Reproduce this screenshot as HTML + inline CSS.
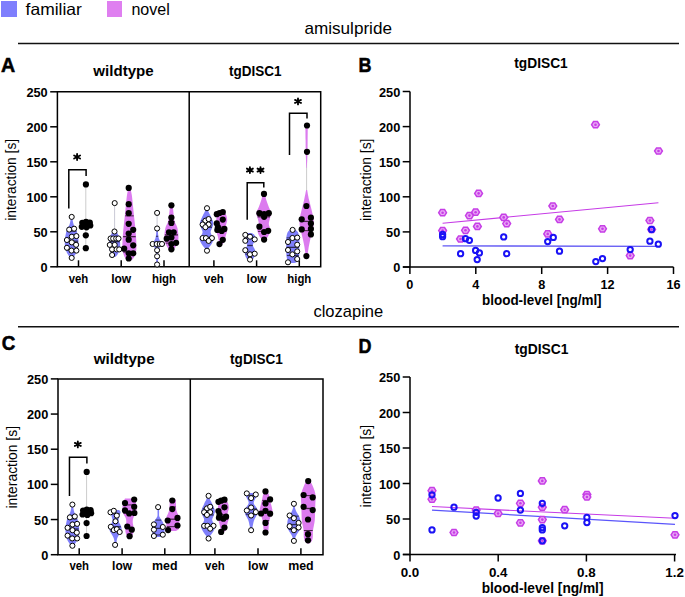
<!DOCTYPE html>
<html><head><meta charset="utf-8"><style>
html,body{margin:0;padding:0;background:#fff;}
body{width:685px;height:597px;overflow:hidden;}
svg{display:block;font-family:"Liberation Sans", sans-serif;}
</style></head><body>
<svg width="685" height="597" viewBox="0 0 685 597">
<rect width="685" height="597" fill="#fff"/>
<rect x="1" y="1" width="16" height="16" fill="#7f7ffd"/>
<rect x="107" y="1" width="15" height="16" fill="#df7ff0"/>
<text x="25.6" y="14.6" font-size="16.5" font-weight="normal" text-anchor="start" textLength="56.3" lengthAdjust="spacingAndGlyphs">familiar</text>
<text x="131.4" y="14.6" font-size="16.5" font-weight="normal" text-anchor="start" textLength="38.4" lengthAdjust="spacingAndGlyphs">novel</text>
<text x="304.4" y="33.8" font-size="16.6" font-weight="normal" text-anchor="start" textLength="87.6" lengthAdjust="spacingAndGlyphs">amisulpride</text>
<line x1="18" y1="43.5" x2="679" y2="43.5" stroke="#111" stroke-width="1.6"/>
<text x="313.4" y="316.9" font-size="16.6" font-weight="normal" text-anchor="start" textLength="69.8" lengthAdjust="spacingAndGlyphs">clozapine</text>
<line x1="18" y1="326.7" x2="679" y2="326.7" stroke="#111" stroke-width="1.6"/>
<text x="1.1" y="71.8" font-size="21" font-weight="bold" text-anchor="start" textLength="14.2" lengthAdjust="spacingAndGlyphs" stroke="#000" stroke-width="0.55">A</text>
<text x="358.5" y="72.3" font-size="21" font-weight="bold" text-anchor="start" textLength="13.0" lengthAdjust="spacingAndGlyphs" stroke="#000" stroke-width="0.55">B</text>
<text x="1.8" y="350.3" font-size="21" font-weight="bold" text-anchor="start" textLength="13.6" lengthAdjust="spacingAndGlyphs" stroke="#000" stroke-width="0.55">C</text>
<text x="358.5" y="353.0" font-size="21" font-weight="bold" text-anchor="start" textLength="13.0" lengthAdjust="spacingAndGlyphs" stroke="#000" stroke-width="0.55">D</text>
<path d="M57.4,91.8 H320.7 V266.8 H57.4 Z M189.2,91.8 V266.8" fill="none" stroke="#000" stroke-width="1.5"/>
<line x1="50.199999999999996" y1="266.8" x2="57.4" y2="266.8" stroke="#000" stroke-width="1.5"/>
<text x="47.7" y="271.8" font-size="13.1" font-weight="bold" text-anchor="end" textLength="7.1" lengthAdjust="spacingAndGlyphs">0</text>
<line x1="50.199999999999996" y1="231.8" x2="57.4" y2="231.8" stroke="#000" stroke-width="1.5"/>
<text x="47.7" y="236.8" font-size="13.1" font-weight="bold" text-anchor="end" textLength="14.2" lengthAdjust="spacingAndGlyphs">50</text>
<line x1="50.199999999999996" y1="196.8" x2="57.4" y2="196.8" stroke="#000" stroke-width="1.5"/>
<text x="47.7" y="201.8" font-size="13.1" font-weight="bold" text-anchor="end" textLength="21.3" lengthAdjust="spacingAndGlyphs">100</text>
<line x1="50.199999999999996" y1="161.8" x2="57.4" y2="161.8" stroke="#000" stroke-width="1.5"/>
<text x="47.7" y="166.8" font-size="13.1" font-weight="bold" text-anchor="end" textLength="21.3" lengthAdjust="spacingAndGlyphs">150</text>
<line x1="50.199999999999996" y1="126.80000000000001" x2="57.4" y2="126.80000000000001" stroke="#000" stroke-width="1.5"/>
<text x="47.7" y="131.8" font-size="13.1" font-weight="bold" text-anchor="end" textLength="21.3" lengthAdjust="spacingAndGlyphs">200</text>
<line x1="50.199999999999996" y1="91.80000000000001" x2="57.4" y2="91.80000000000001" stroke="#000" stroke-width="1.5"/>
<text x="47.7" y="96.80000000000001" font-size="13.1" font-weight="bold" text-anchor="end" textLength="21.3" lengthAdjust="spacingAndGlyphs">250</text>
<line x1="78.5" y1="260.3" x2="78.5" y2="266.8" stroke="#000" stroke-width="1.5"/>
<line x1="121.2" y1="260.3" x2="121.2" y2="266.8" stroke="#000" stroke-width="1.5"/>
<line x1="164" y1="260.3" x2="164" y2="266.8" stroke="#000" stroke-width="1.5"/>
<line x1="213.9" y1="260.3" x2="213.9" y2="266.8" stroke="#000" stroke-width="1.5"/>
<line x1="256.6" y1="260.3" x2="256.6" y2="266.8" stroke="#000" stroke-width="1.5"/>
<line x1="299.3" y1="260.3" x2="299.3" y2="266.8" stroke="#000" stroke-width="1.5"/>
<text x="78.5" y="282.5" font-size="12.5" font-weight="bold" text-anchor="middle" textLength="19.6" lengthAdjust="spacingAndGlyphs">veh</text>
<text x="121.2" y="282.5" font-size="12.5" font-weight="bold" text-anchor="middle" textLength="20" lengthAdjust="spacingAndGlyphs">low</text>
<text x="164" y="282.5" font-size="12.5" font-weight="bold" text-anchor="middle" textLength="24" lengthAdjust="spacingAndGlyphs">high</text>
<text x="213.9" y="282.5" font-size="12.5" font-weight="bold" text-anchor="middle" textLength="19.6" lengthAdjust="spacingAndGlyphs">veh</text>
<text x="256.6" y="282.5" font-size="12.5" font-weight="bold" text-anchor="middle" textLength="20" lengthAdjust="spacingAndGlyphs">low</text>
<text x="299.3" y="282.5" font-size="12.5" font-weight="bold" text-anchor="middle" textLength="24" lengthAdjust="spacingAndGlyphs">high</text>
<text transform="translate(16.4,179.8) rotate(-90)" font-size="13.9" text-anchor="middle" textLength="81.8" lengthAdjust="spacingAndGlyphs">interaction [s]</text>
<line x1="85.8" y1="184.4" x2="85.8" y2="248.2" stroke="#cccccc" stroke-width="1.0"/>
<path d="M72.20,216.90 C72.30,217.58 72.53,219.65 72.80,221.00 C73.07,222.35 73.25,223.67 73.80,225.00 C74.35,226.33 75.47,227.33 76.10,229.00 C76.73,230.67 77.22,233.17 77.60,235.00 C77.98,236.83 78.33,237.83 78.40,240.00 C78.47,242.17 78.47,245.67 78.00,248.00 C77.53,250.33 76.50,252.33 75.60,254.00 C74.70,255.67 73.10,257.33 72.60,258.00 L70.60,258.00 C70.10,257.33 68.50,255.67 67.60,254.00 C66.70,252.33 65.67,250.33 65.20,248.00 C64.73,245.67 64.73,242.17 64.80,240.00 C64.87,237.83 65.22,236.83 65.60,235.00 C65.98,233.17 66.47,230.67 67.10,229.00 C67.73,227.33 68.85,226.33 69.40,225.00 C69.95,223.67 70.13,222.35 70.40,221.00 C70.67,219.65 70.90,217.58 71.00,216.90 Z" fill="#7f7ffb"/>
<path d="M86.00,222.00 C86.38,222.33 88.30,223.33 88.30,224.00 C88.30,224.67 86.38,225.67 86.00,226.00 L85.60,226.00 C85.22,225.67 83.30,224.67 83.30,224.00 C83.30,223.33 85.22,222.33 85.60,222.00 Z" fill="#dc7bef"/>
<line x1="66.84" y1="231.22" x2="76.36" y2="231.22" stroke="#2a2a55" stroke-width="1.0"/>
<line x1="65.16" y1="241.2" x2="78.04" y2="241.2" stroke="#2a2a55" stroke-width="1.3"/>
<line x1="66.26" y1="249.9" x2="76.94" y2="249.9" stroke="#2a2a55" stroke-width="1.0"/>
<circle cx="71.7" cy="216.9" r="2.55" fill="#fff" stroke="#000" stroke-width="1.0"/>
<circle cx="69.2" cy="229.6" r="2.55" fill="#fff" stroke="#000" stroke-width="1.0"/>
<circle cx="74.1" cy="228.7" r="2.55" fill="#fff" stroke="#000" stroke-width="1.0"/>
<circle cx="71.8" cy="236.7" r="2.55" fill="#fff" stroke="#000" stroke-width="1.0"/>
<circle cx="76.4" cy="236.1" r="2.55" fill="#fff" stroke="#000" stroke-width="1.0"/>
<circle cx="66.9" cy="240" r="2.55" fill="#fff" stroke="#000" stroke-width="1.0"/>
<circle cx="71.8" cy="242.4" r="2.55" fill="#fff" stroke="#000" stroke-width="1.0"/>
<circle cx="76.1" cy="244.8" r="2.55" fill="#fff" stroke="#000" stroke-width="1.0"/>
<circle cx="66.9" cy="247.8" r="2.55" fill="#fff" stroke="#000" stroke-width="1.0"/>
<circle cx="71.5" cy="250.6" r="2.55" fill="#fff" stroke="#000" stroke-width="1.0"/>
<circle cx="76.4" cy="250.6" r="2.55" fill="#fff" stroke="#000" stroke-width="1.0"/>
<circle cx="71.7" cy="257.9" r="2.55" fill="#fff" stroke="#000" stroke-width="1.0"/>
<circle cx="85.9" cy="184.4" r="3.1" fill="#000"/>
<circle cx="82.3" cy="222.8" r="3.1" fill="#000"/>
<circle cx="86.0" cy="221.8" r="3.1" fill="#000"/>
<circle cx="89.8" cy="222.5" r="3.1" fill="#000"/>
<circle cx="90.3" cy="225.5" r="3.1" fill="#000"/>
<circle cx="86.5" cy="227.3" r="3.1" fill="#000"/>
<circle cx="81.8" cy="226.8" r="3.1" fill="#000"/>
<circle cx="85.5" cy="225.0" r="3.1" fill="#000"/>
<circle cx="85.8" cy="235.3" r="3.1" fill="#000"/>
<circle cx="85.8" cy="248.2" r="3.1" fill="#000"/>
<line x1="114.6" y1="203.1" x2="114.6" y2="231.5" stroke="#c9c9d6" stroke-width="1.0"/>
<path d="M115.10,229.00 C115.38,229.50 116.18,230.83 116.80,232.00 C117.42,233.17 118.30,234.67 118.80,236.00 C119.30,237.33 119.57,238.50 119.80,240.00 C120.03,241.50 120.23,243.33 120.20,245.00 C120.17,246.67 120.10,248.33 119.60,250.00 C119.10,251.67 117.95,253.83 117.20,255.00 C116.45,256.17 115.45,256.67 115.10,257.00 L114.10,257.00 C113.75,256.67 112.75,256.17 112.00,255.00 C111.25,253.83 110.10,251.67 109.60,250.00 C109.10,248.33 109.03,246.67 109.00,245.00 C108.97,243.33 109.17,241.50 109.40,240.00 C109.63,238.50 109.90,237.33 110.40,236.00 C110.90,234.67 111.78,233.17 112.40,232.00 C113.02,230.83 113.82,229.50 114.10,229.00 Z" fill="#7f7ffb"/>
<path d="M130.40,188.00 C130.63,189.17 131.38,192.17 131.80,195.00 C132.22,197.83 132.55,201.67 132.90,205.00 C133.25,208.33 133.55,211.67 133.90,215.00 C134.25,218.33 134.67,221.67 135.00,225.00 C135.33,228.33 135.67,231.67 135.90,235.00 C136.13,238.33 136.40,242.17 136.40,245.00 C136.40,247.83 136.37,249.83 135.90,252.00 C135.43,254.17 134.52,256.50 133.60,258.00 C132.68,259.50 130.93,260.50 130.40,261.00 L128.40,261.00 C127.87,260.50 126.12,259.50 125.20,258.00 C124.28,256.50 123.37,254.17 122.90,252.00 C122.43,249.83 122.40,247.83 122.40,245.00 C122.40,242.17 122.67,238.33 122.90,235.00 C123.13,231.67 123.47,228.33 123.80,225.00 C124.13,221.67 124.55,218.33 124.90,215.00 C125.25,211.67 125.55,208.33 125.90,205.00 C126.25,201.67 126.58,197.83 127.00,195.00 C127.42,192.17 128.17,189.17 128.40,188.00 Z" fill="#dc7bef"/>
<line x1="110.07" y1="238.5" x2="119.12" y2="238.5" stroke="#2a2a55" stroke-width="1.0"/>
<line x1="109.56" y1="241.7" x2="119.64" y2="241.7" stroke="#2a2a55" stroke-width="1.3"/>
<line x1="109.83" y1="249.4" x2="119.37" y2="249.4" stroke="#2a2a55" stroke-width="1.0"/>
<line x1="125.11" y1="215.85" x2="133.69" y2="215.85" stroke="#442244" stroke-width="1.0"/>
<line x1="123.12" y1="236.65" x2="135.68" y2="236.65" stroke="#442244" stroke-width="1.3"/>
<line x1="123.26" y1="252.15" x2="135.54" y2="252.15" stroke="#442244" stroke-width="1.0"/>
<circle cx="114.7" cy="203.1" r="2.55" fill="#fff" stroke="#000" stroke-width="1.0"/>
<circle cx="114.5" cy="231.5" r="2.55" fill="#fff" stroke="#000" stroke-width="1.0"/>
<circle cx="110.6" cy="238.5" r="2.55" fill="#fff" stroke="#000" stroke-width="1.0"/>
<circle cx="113.2" cy="238.5" r="2.55" fill="#fff" stroke="#000" stroke-width="1.0"/>
<circle cx="116.2" cy="238.5" r="2.55" fill="#fff" stroke="#000" stroke-width="1.0"/>
<circle cx="118.5" cy="238.5" r="2.55" fill="#fff" stroke="#000" stroke-width="1.0"/>
<circle cx="109.8" cy="244.9" r="2.55" fill="#fff" stroke="#000" stroke-width="1.0"/>
<circle cx="114.7" cy="244.9" r="2.55" fill="#fff" stroke="#000" stroke-width="1.0"/>
<circle cx="112.1" cy="249.4" r="2.55" fill="#fff" stroke="#000" stroke-width="1.0"/>
<circle cx="116.6" cy="249.4" r="2.55" fill="#fff" stroke="#000" stroke-width="1.0"/>
<circle cx="119.2" cy="249.4" r="2.55" fill="#fff" stroke="#000" stroke-width="1.0"/>
<circle cx="112.1" cy="255" r="2.55" fill="#fff" stroke="#000" stroke-width="1.0"/>
<circle cx="128.7" cy="187.9" r="3.1" fill="#000"/>
<circle cx="128.7" cy="204.2" r="3.1" fill="#000"/>
<circle cx="128.7" cy="213.2" r="3.1" fill="#000"/>
<circle cx="128.7" cy="223.8" r="3.1" fill="#000"/>
<circle cx="133.2" cy="229.8" r="3.1" fill="#000"/>
<circle cx="128.7" cy="233.6" r="3.1" fill="#000"/>
<circle cx="128.7" cy="239.7" r="3.1" fill="#000"/>
<circle cx="133.2" cy="245.3" r="3.1" fill="#000"/>
<circle cx="124.2" cy="248.7" r="3.1" fill="#000"/>
<circle cx="128.7" cy="253.3" r="3.1" fill="#000"/>
<circle cx="133.2" cy="253.3" r="3.1" fill="#000"/>
<circle cx="128.7" cy="258.5" r="3.1" fill="#000"/>
<line x1="157.1" y1="212.9" x2="157.1" y2="264.5" stroke="#c9c9d6" stroke-width="1.0"/>
<path d="M157.40,226.00 C157.48,227.00 157.68,230.00 157.90,232.00 C158.12,234.00 158.17,236.00 158.70,238.00 C159.23,240.00 161.00,242.33 161.10,244.00 C161.20,245.67 159.78,246.67 159.30,248.00 C158.82,249.33 158.40,250.67 158.20,252.00 C158.00,253.33 158.15,254.33 158.10,256.00 C158.05,257.67 158.02,260.50 157.90,262.00 C157.78,263.50 157.48,264.50 157.40,265.00 L156.80,265.00 C156.72,264.50 156.42,263.50 156.30,262.00 C156.18,260.50 156.15,257.67 156.10,256.00 C156.05,254.33 156.20,253.33 156.00,252.00 C155.80,250.67 155.38,249.33 154.90,248.00 C154.42,246.67 153.00,245.67 153.10,244.00 C153.20,242.33 154.97,240.00 155.50,238.00 C156.03,236.00 156.08,234.00 156.30,232.00 C156.52,230.00 156.72,227.00 156.80,226.00 Z" fill="#7f7ffb"/>
<path d="M172.60,205.00 C172.70,205.83 172.98,208.00 173.20,210.00 C173.42,212.00 173.62,215.00 173.90,217.00 C174.18,219.00 174.32,220.17 174.90,222.00 C175.48,223.83 176.82,225.67 177.40,228.00 C177.98,230.33 178.32,233.67 178.40,236.00 C178.48,238.33 178.48,240.00 177.90,242.00 C177.32,244.00 175.82,246.50 174.90,248.00 C173.98,249.50 172.82,250.50 172.40,251.00 L170.40,251.00 C169.98,250.50 168.82,249.50 167.90,248.00 C166.98,246.50 165.48,244.00 164.90,242.00 C164.32,240.00 164.32,238.33 164.40,236.00 C164.48,233.67 164.82,230.33 165.40,228.00 C165.98,225.67 167.32,223.83 167.90,222.00 C168.48,220.17 168.62,219.00 168.90,217.00 C169.18,215.00 169.38,212.00 169.60,210.00 C169.82,208.00 170.10,205.83 170.20,205.00 Z" fill="#dc7bef"/>
<line x1="156.03" y1="236.25" x2="158.17" y2="236.25" stroke="#2a2a55" stroke-width="1.0"/>
<line x1="153.4" y1="244.0" x2="160.8" y2="244.0" stroke="#2a2a55" stroke-width="1.3"/>
<line x1="168.29" y1="221.57" x2="174.51" y2="221.57" stroke="#442244" stroke-width="1.0"/>
<line x1="164.84" y1="234.9" x2="177.96" y2="234.9" stroke="#442244" stroke-width="1.3"/>
<line x1="165.75" y1="243.1" x2="177.05" y2="243.1" stroke="#442244" stroke-width="1.0"/>
<circle cx="157.1" cy="212.9" r="2.55" fill="#fff" stroke="#000" stroke-width="1.0"/>
<circle cx="157.1" cy="228.5" r="2.55" fill="#fff" stroke="#000" stroke-width="1.0"/>
<circle cx="152.6" cy="244" r="2.55" fill="#fff" stroke="#000" stroke-width="1.0"/>
<circle cx="156.7" cy="244" r="2.55" fill="#fff" stroke="#000" stroke-width="1.0"/>
<circle cx="159.7" cy="244" r="2.55" fill="#fff" stroke="#000" stroke-width="1.0"/>
<circle cx="162" cy="244" r="2.55" fill="#fff" stroke="#000" stroke-width="1.0"/>
<circle cx="157.1" cy="250.2" r="2.55" fill="#fff" stroke="#000" stroke-width="1.0"/>
<circle cx="157.1" cy="256.3" r="2.55" fill="#fff" stroke="#000" stroke-width="1.0"/>
<circle cx="157.1" cy="264.5" r="2.55" fill="#fff" stroke="#000" stroke-width="1.0"/>
<circle cx="171.4" cy="205.3" r="3.1" fill="#000"/>
<circle cx="171.4" cy="217.6" r="3.1" fill="#000"/>
<circle cx="171.4" cy="222.9" r="3.1" fill="#000"/>
<circle cx="169" cy="232.3" r="3.1" fill="#000"/>
<circle cx="173.7" cy="232.3" r="3.1" fill="#000"/>
<circle cx="166.7" cy="238.7" r="3.1" fill="#000"/>
<circle cx="171.4" cy="237.5" r="3.1" fill="#000"/>
<circle cx="176.1" cy="242.8" r="3.1" fill="#000"/>
<circle cx="171.4" cy="244" r="3.1" fill="#000"/>
<circle cx="171.4" cy="249.3" r="3.1" fill="#000"/>
<path d="M207.10,208.30 C207.35,208.92 208.02,210.72 208.60,212.00 C209.18,213.28 209.82,214.17 210.60,216.00 C211.38,217.83 213.05,221.00 213.30,223.00 C213.55,225.00 212.55,226.50 212.10,228.00 C211.65,229.50 210.60,230.67 210.60,232.00 C210.60,233.33 211.60,234.83 212.10,236.00 C212.60,237.17 213.68,237.67 213.60,239.00 C213.52,240.33 212.43,242.50 211.60,244.00 C210.77,245.50 209.35,246.90 208.60,248.00 C207.85,249.10 207.35,250.17 207.10,250.60 L206.10,250.60 C205.85,250.17 205.35,249.10 204.60,248.00 C203.85,246.90 202.43,245.50 201.60,244.00 C200.77,242.50 199.68,240.33 199.60,239.00 C199.52,237.67 200.60,237.17 201.10,236.00 C201.60,234.83 202.60,233.33 202.60,232.00 C202.60,230.67 201.55,229.50 201.10,228.00 C200.65,226.50 199.65,225.00 199.90,223.00 C200.15,221.00 201.82,217.83 202.60,216.00 C203.38,214.17 204.02,213.28 204.60,212.00 C205.18,210.72 205.85,208.92 206.10,208.30 Z" fill="#7f7ffb"/>
<path d="M222.50,211.70 C223.03,212.08 224.92,212.62 225.70,214.00 C226.48,215.38 227.17,218.00 227.20,220.00 C227.23,222.00 225.90,224.33 225.90,226.00 C225.90,227.67 227.23,228.33 227.20,230.00 C227.17,231.67 226.20,234.00 225.70,236.00 C225.20,238.00 224.78,240.62 224.20,242.00 C223.62,243.38 222.53,243.92 222.20,244.30 L221.20,244.30 C220.87,243.92 219.78,243.38 219.20,242.00 C218.62,240.62 218.20,238.00 217.70,236.00 C217.20,234.00 216.23,231.67 216.20,230.00 C216.17,228.33 217.50,227.67 217.50,226.00 C217.50,224.33 216.17,222.00 216.20,220.00 C216.23,218.00 216.92,215.38 217.70,214.00 C218.48,212.62 220.37,212.08 220.90,211.70 Z" fill="#dc7bef"/>
<line x1="201.09" y1="220.7" x2="212.11" y2="220.7" stroke="#2a2a55" stroke-width="1.0"/>
<line x1="201.21" y1="227.2" x2="211.99" y2="227.2" stroke="#2a2a55" stroke-width="1.3"/>
<line x1="200.35" y1="238.1" x2="212.85" y2="238.1" stroke="#2a2a55" stroke-width="1.0"/>
<line x1="217.95" y1="214.2" x2="225.45" y2="214.2" stroke="#442244" stroke-width="1.0"/>
<line x1="217.41" y1="227.2" x2="225.99" y2="227.2" stroke="#442244" stroke-width="1.3"/>
<line x1="216.75" y1="231.0" x2="226.65" y2="231.0" stroke="#442244" stroke-width="1.0"/>
<circle cx="207" cy="208.2" r="2.55" fill="#fff" stroke="#000" stroke-width="1.0"/>
<circle cx="205.4" cy="220.7" r="2.55" fill="#fff" stroke="#000" stroke-width="1.0"/>
<circle cx="208.6" cy="219.1" r="2.55" fill="#fff" stroke="#000" stroke-width="1.0"/>
<circle cx="202.6" cy="224.5" r="2.55" fill="#fff" stroke="#000" stroke-width="1.0"/>
<circle cx="208.6" cy="224.5" r="2.55" fill="#fff" stroke="#000" stroke-width="1.0"/>
<circle cx="205.4" cy="227.2" r="2.55" fill="#fff" stroke="#000" stroke-width="1.0"/>
<circle cx="202.6" cy="238.1" r="2.55" fill="#fff" stroke="#000" stroke-width="1.0"/>
<circle cx="205.9" cy="238.1" r="2.55" fill="#fff" stroke="#000" stroke-width="1.0"/>
<circle cx="211.9" cy="238.1" r="2.55" fill="#fff" stroke="#000" stroke-width="1.0"/>
<circle cx="208.6" cy="240.9" r="2.55" fill="#fff" stroke="#000" stroke-width="1.0"/>
<circle cx="207" cy="250.7" r="2.55" fill="#fff" stroke="#000" stroke-width="1.0"/>
<circle cx="216.8" cy="214.2" r="3.1" fill="#000"/>
<circle cx="219.5" cy="213" r="3.1" fill="#000"/>
<circle cx="222.8" cy="212" r="3.1" fill="#000"/>
<circle cx="222.8" cy="219.6" r="3.1" fill="#000"/>
<circle cx="216.8" cy="223.4" r="3.1" fill="#000"/>
<circle cx="217.9" cy="227.2" r="3.1" fill="#000"/>
<circle cx="224.4" cy="228.9" r="3.1" fill="#000"/>
<circle cx="217.3" cy="230" r="3.1" fill="#000"/>
<circle cx="221.7" cy="231" r="3.1" fill="#000"/>
<circle cx="222.8" cy="239.8" r="3.1" fill="#000"/>
<circle cx="219.5" cy="244.1" r="3.1" fill="#000"/>
<path d="M251.50,233.00 C252.00,233.33 253.83,233.83 254.50,235.00 C255.17,236.17 255.78,238.33 255.50,240.00 C255.22,241.67 252.88,243.33 252.80,245.00 C252.72,246.67 254.63,248.33 255.00,250.00 C255.37,251.67 255.33,253.50 255.00,255.00 C254.67,256.50 253.75,258.00 253.00,259.00 C252.25,260.00 250.92,260.67 250.50,261.00 L249.50,261.00 C249.08,260.67 247.75,260.00 247.00,259.00 C246.25,258.00 245.33,256.50 245.00,255.00 C244.67,253.50 244.63,251.67 245.00,250.00 C245.37,248.33 247.28,246.67 247.20,245.00 C247.12,243.33 244.78,241.67 244.50,240.00 C244.22,238.33 244.83,236.17 245.50,235.00 C246.17,233.83 248.00,233.33 248.50,233.00 Z" fill="#7f7ffb"/>
<path d="M264.80,193.90 C265.05,194.92 265.63,197.82 266.30,200.00 C266.97,202.18 268.00,204.83 268.80,207.00 C269.60,209.17 270.93,211.00 271.10,213.00 C271.27,215.00 270.18,217.17 269.80,219.00 C269.42,220.83 268.72,222.17 268.80,224.00 C268.88,225.83 270.38,228.00 270.30,230.00 C270.22,232.00 269.13,234.33 268.30,236.00 C267.47,237.67 265.97,239.17 265.30,240.00 C264.63,240.83 264.47,240.83 264.30,241.00 L263.30,241.00 C263.13,240.83 262.97,240.83 262.30,240.00 C261.63,239.17 260.13,237.67 259.30,236.00 C258.47,234.33 257.38,232.00 257.30,230.00 C257.22,228.00 258.72,225.83 258.80,224.00 C258.88,222.17 258.18,220.83 257.80,219.00 C257.42,217.17 256.33,215.00 256.50,213.00 C256.67,211.00 258.00,209.17 258.80,207.00 C259.60,204.83 260.63,202.18 261.30,200.00 C261.97,197.82 262.55,194.92 262.80,193.90 Z" fill="#dc7bef"/>
<line x1="245.33" y1="237.38" x2="254.67" y2="237.38" stroke="#2a2a55" stroke-width="1.0"/>
<line x1="247.28" y1="245.5" x2="252.72" y2="245.5" stroke="#2a2a55" stroke-width="1.3"/>
<line x1="245.3" y1="254.15" x2="254.7" y2="254.15" stroke="#2a2a55" stroke-width="1.0"/>
<line x1="256.84" y1="213.2" x2="270.76" y2="213.2" stroke="#442244" stroke-width="1.0"/>
<line x1="257.62" y1="216.8" x2="269.98" y2="216.8" stroke="#442244" stroke-width="1.3"/>
<line x1="258.07" y1="231.4" x2="269.53" y2="231.4" stroke="#442244" stroke-width="1.0"/>
<circle cx="245.3" cy="234.9" r="2.55" fill="#fff" stroke="#000" stroke-width="1.0"/>
<circle cx="250" cy="236.7" r="2.55" fill="#fff" stroke="#000" stroke-width="1.0"/>
<circle cx="245.3" cy="240.8" r="2.55" fill="#fff" stroke="#000" stroke-width="1.0"/>
<circle cx="254.7" cy="239.4" r="2.55" fill="#fff" stroke="#000" stroke-width="1.0"/>
<circle cx="245.3" cy="250.2" r="2.55" fill="#fff" stroke="#000" stroke-width="1.0"/>
<circle cx="250" cy="254.3" r="2.55" fill="#fff" stroke="#000" stroke-width="1.0"/>
<circle cx="254.7" cy="253.7" r="2.55" fill="#fff" stroke="#000" stroke-width="1.0"/>
<circle cx="250" cy="259.6" r="2.55" fill="#fff" stroke="#000" stroke-width="1.0"/>
<circle cx="264" cy="193.9" r="3.1" fill="#000"/>
<circle cx="259.4" cy="213.2" r="3.1" fill="#000"/>
<circle cx="268.8" cy="213.2" r="3.1" fill="#000"/>
<circle cx="264.1" cy="214" r="3.1" fill="#000"/>
<circle cx="264.1" cy="216.8" r="3.1" fill="#000"/>
<circle cx="259.4" cy="226.7" r="3.1" fill="#000"/>
<circle cx="264.1" cy="232" r="3.1" fill="#000"/>
<circle cx="268.2" cy="230.8" r="3.1" fill="#000"/>
<circle cx="264.1" cy="239.6" r="3.1" fill="#000"/>
<line x1="306.6" y1="125.5" x2="306.6" y2="256.1" stroke="#cccccc" stroke-width="1.0"/>
<path d="M294.30,229.50 C294.88,229.92 296.97,230.58 297.80,232.00 C298.63,233.42 299.05,235.83 299.30,238.00 C299.55,240.17 299.30,242.67 299.30,245.00 C299.30,247.33 299.38,249.83 299.30,252.00 C299.22,254.17 299.22,256.33 298.80,258.00 C298.38,259.67 297.63,261.17 296.80,262.00 C295.97,262.83 294.30,262.83 293.80,263.00 L291.80,263.00 C291.30,262.83 289.63,262.83 288.80,262.00 C287.97,261.17 287.22,259.67 286.80,258.00 C286.38,256.33 286.38,254.17 286.30,252.00 C286.22,249.83 286.30,247.33 286.30,245.00 C286.30,242.67 286.05,240.17 286.30,238.00 C286.55,235.83 286.97,233.42 287.80,232.00 C288.63,230.58 290.72,229.92 291.30,229.50 Z" fill="#7f7ffb"/>
<path d="M307.10,190.00 C307.43,191.67 308.35,196.67 309.10,200.00 C309.85,203.33 310.85,206.67 311.60,210.00 C312.35,213.33 313.35,217.00 313.60,220.00 C313.85,223.00 313.52,225.33 313.10,228.00 C312.68,230.67 311.77,233.17 311.10,236.00 C310.43,238.83 309.72,241.67 309.10,245.00 C308.48,248.33 307.68,254.17 307.40,256.00 L305.80,256.00 C305.52,254.17 304.72,248.33 304.10,245.00 C303.48,241.67 302.77,238.83 302.10,236.00 C301.43,233.17 300.52,230.67 300.10,228.00 C299.68,225.33 299.35,223.00 299.60,220.00 C299.85,217.00 300.85,213.33 301.60,210.00 C302.35,206.67 303.35,203.33 304.10,200.00 C304.85,196.67 305.77,191.67 306.10,190.00 Z" fill="#dc7bef"/>
<path d="M307.80,125.50 C307.77,127.92 307.65,135.58 307.60,140.00 C307.55,144.42 307.57,148.67 307.50,152.00 C307.43,155.33 307.32,157.33 307.20,160.00 C307.08,162.67 306.87,166.67 306.80,168.00 L306.40,168.00 C306.33,166.67 306.12,162.67 306.00,160.00 C305.88,157.33 305.77,155.33 305.70,152.00 C305.63,148.67 305.65,144.42 305.60,140.00 C305.55,135.58 305.43,127.92 305.40,125.50 Z" fill="#dc7bef"/>
<line x1="286.62" y1="237.9" x2="298.98" y2="237.9" stroke="#2a2a55" stroke-width="1.0"/>
<line x1="286.6" y1="247.35" x2="299.0" y2="247.35" stroke="#2a2a55" stroke-width="1.3"/>
<line x1="286.9" y1="255.55" x2="298.7" y2="255.55" stroke="#2a2a55" stroke-width="1.0"/>
<line x1="299.99" y1="221.4" x2="313.21" y2="221.4" stroke="#442244" stroke-width="1.3"/>
<line x1="301.06" y1="230.65" x2="312.14" y2="230.65" stroke="#442244" stroke-width="1.0"/>
<circle cx="292.6" cy="229.9" r="2.55" fill="#fff" stroke="#000" stroke-width="1.0"/>
<circle cx="292.4" cy="238" r="2.55" fill="#fff" stroke="#000" stroke-width="1.0"/>
<circle cx="297.2" cy="237.6" r="2.55" fill="#fff" stroke="#000" stroke-width="1.0"/>
<circle cx="288" cy="242" r="2.55" fill="#fff" stroke="#000" stroke-width="1.0"/>
<circle cx="297.2" cy="244.7" r="2.55" fill="#fff" stroke="#000" stroke-width="1.0"/>
<circle cx="288" cy="250" r="2.55" fill="#fff" stroke="#000" stroke-width="1.0"/>
<circle cx="297.2" cy="251.4" r="2.55" fill="#fff" stroke="#000" stroke-width="1.0"/>
<circle cx="292.4" cy="254.4" r="2.55" fill="#fff" stroke="#000" stroke-width="1.0"/>
<circle cx="297.2" cy="259" r="2.55" fill="#fff" stroke="#000" stroke-width="1.0"/>
<circle cx="288" cy="262.3" r="2.55" fill="#fff" stroke="#000" stroke-width="1.0"/>
<circle cx="307" cy="125.5" r="3.1" fill="#000"/>
<circle cx="307" cy="151.8" r="3.1" fill="#000"/>
<circle cx="306.4" cy="206" r="3.1" fill="#000"/>
<circle cx="301.7" cy="219.3" r="3.1" fill="#000"/>
<circle cx="310.9" cy="217.7" r="3.1" fill="#000"/>
<circle cx="310.9" cy="223.5" r="3.1" fill="#000"/>
<circle cx="301.7" cy="229.4" r="3.1" fill="#000"/>
<circle cx="310.9" cy="228.9" r="3.1" fill="#000"/>
<circle cx="310.9" cy="234.4" r="3.1" fill="#000"/>
<circle cx="306.4" cy="256.1" r="3.1" fill="#000"/>
<text x="123.5" y="75.8" font-size="14" font-weight="bold" text-anchor="middle" textLength="60.3" lengthAdjust="spacingAndGlyphs">wildtype</text>
<text x="255.3" y="75.8" font-size="14" font-weight="bold" text-anchor="middle" textLength="52.5" lengthAdjust="spacingAndGlyphs">tgDISC1</text>
<path d="M68.8,208.4 V169.7 H86.1 V176" fill="none" stroke="#000" stroke-width="1.5"/>
<path d="M77.10,154.00L77.10,160.00M74.12,155.48L80.08,158.52M80.08,155.48L74.12,158.52" stroke="#000" stroke-width="1.85" stroke-linecap="round" fill="none"/>
<circle cx="77.10" cy="157.00" r="1.6" fill="#000"/>
<path d="M247.2,219.7 V182.8 H263.8 V187.5" fill="none" stroke="#000" stroke-width="1.5"/>
<path d="M249.90,167.10L249.90,173.10M246.92,168.58L252.88,171.62M252.88,168.58L246.92,171.62" stroke="#000" stroke-width="1.85" stroke-linecap="round" fill="none"/>
<circle cx="249.90" cy="170.10" r="1.6" fill="#000"/>
<path d="M260.50,167.10L260.50,173.10M257.52,168.58L263.48,171.62M263.48,168.58L257.52,171.62" stroke="#000" stroke-width="1.85" stroke-linecap="round" fill="none"/>
<circle cx="260.50" cy="170.10" r="1.6" fill="#000"/>
<path d="M289.5,155 V113.3 H307 V118.4" fill="none" stroke="#000" stroke-width="1.5"/>
<path d="M298.00,98.40L298.00,104.40M295.02,99.88L300.98,102.92M300.98,99.88L295.02,102.92" stroke="#000" stroke-width="1.85" stroke-linecap="round" fill="none"/>
<circle cx="298.00" cy="101.40" r="1.6" fill="#000"/>
<path d="M58,378.9 H323 V554.7 H58 Z M190.3,378.9 V554.7" fill="none" stroke="#000" stroke-width="1.5"/>
<line x1="50.8" y1="554.7" x2="58" y2="554.7" stroke="#000" stroke-width="1.5"/>
<text x="48.3" y="559.7" font-size="13.1" font-weight="bold" text-anchor="end" textLength="7.1" lengthAdjust="spacingAndGlyphs">0</text>
<line x1="50.8" y1="519.5400000000001" x2="58" y2="519.5400000000001" stroke="#000" stroke-width="1.5"/>
<text x="48.3" y="524.5400000000001" font-size="13.1" font-weight="bold" text-anchor="end" textLength="14.2" lengthAdjust="spacingAndGlyphs">50</text>
<line x1="50.8" y1="484.38" x2="58" y2="484.38" stroke="#000" stroke-width="1.5"/>
<text x="48.3" y="489.38" font-size="13.1" font-weight="bold" text-anchor="end" textLength="21.3" lengthAdjust="spacingAndGlyphs">100</text>
<line x1="50.8" y1="449.22" x2="58" y2="449.22" stroke="#000" stroke-width="1.5"/>
<text x="48.3" y="454.22" font-size="13.1" font-weight="bold" text-anchor="end" textLength="21.3" lengthAdjust="spacingAndGlyphs">150</text>
<line x1="50.8" y1="414.06" x2="58" y2="414.06" stroke="#000" stroke-width="1.5"/>
<text x="48.3" y="419.06" font-size="13.1" font-weight="bold" text-anchor="end" textLength="21.3" lengthAdjust="spacingAndGlyphs">200</text>
<line x1="50.8" y1="378.9" x2="58" y2="378.9" stroke="#000" stroke-width="1.5"/>
<text x="48.3" y="383.9" font-size="13.1" font-weight="bold" text-anchor="end" textLength="21.3" lengthAdjust="spacingAndGlyphs">250</text>
<text transform="translate(16.9,467.3) rotate(-90)" font-size="13.9" text-anchor="middle" textLength="82.6" lengthAdjust="spacingAndGlyphs">interaction [s]</text>
<line x1="79.2" y1="548.2" x2="79.2" y2="554.7" stroke="#000" stroke-width="1.5"/>
<line x1="122.1" y1="548.2" x2="122.1" y2="554.7" stroke="#000" stroke-width="1.5"/>
<line x1="164.8" y1="548.2" x2="164.8" y2="554.7" stroke="#000" stroke-width="1.5"/>
<line x1="214.9" y1="548.2" x2="214.9" y2="554.7" stroke="#000" stroke-width="1.5"/>
<line x1="258" y1="548.2" x2="258" y2="554.7" stroke="#000" stroke-width="1.5"/>
<line x1="300.9" y1="548.2" x2="300.9" y2="554.7" stroke="#000" stroke-width="1.5"/>
<text x="79.2" y="570.4000000000001" font-size="12.5" font-weight="bold" text-anchor="middle" textLength="19.6" lengthAdjust="spacingAndGlyphs">veh</text>
<text x="122.1" y="570.4000000000001" font-size="12.5" font-weight="bold" text-anchor="middle" textLength="20" lengthAdjust="spacingAndGlyphs">low</text>
<text x="164.8" y="570.4000000000001" font-size="12.5" font-weight="bold" text-anchor="middle" textLength="25.5" lengthAdjust="spacingAndGlyphs">med</text>
<text x="214.9" y="570.4000000000001" font-size="12.5" font-weight="bold" text-anchor="middle" textLength="19.6" lengthAdjust="spacingAndGlyphs">veh</text>
<text x="258" y="570.4000000000001" font-size="12.5" font-weight="bold" text-anchor="middle" textLength="20" lengthAdjust="spacingAndGlyphs">low</text>
<text x="300.9" y="570.4000000000001" font-size="12.5" font-weight="bold" text-anchor="middle" textLength="25.5" lengthAdjust="spacingAndGlyphs">med</text>
<line x1="86.58" y1="471.93" x2="86.58" y2="536.02" stroke="#cccccc" stroke-width="1.0"/>
<path d="M72.89,504.58 C72.99,505.26 73.22,507.33 73.49,508.69 C73.76,510.05 73.94,511.37 74.49,512.71 C75.04,514.05 76.16,515.06 76.79,516.73 C77.42,518.40 77.91,520.92 78.29,522.76 C78.67,524.60 79.02,525.60 79.09,527.78 C79.16,529.96 79.16,533.48 78.69,535.82 C78.22,538.17 77.19,540.18 76.29,541.85 C75.39,543.52 73.79,545.19 73.29,545.86 L71.29,545.86 C70.79,545.19 69.19,543.52 68.29,541.85 C67.39,540.18 66.36,538.17 65.89,535.82 C65.42,533.48 65.42,529.96 65.49,527.78 C65.56,525.60 65.91,524.60 66.29,522.76 C66.67,520.92 67.16,518.40 67.79,516.73 C68.42,515.06 69.54,514.05 70.09,512.71 C70.64,511.37 70.82,510.05 71.09,508.69 C71.36,507.33 71.59,505.26 71.69,504.58 Z" fill="#7f7ffb"/>
<path d="M86.78,509.70 C87.16,510.03 89.08,511.04 89.08,511.71 C89.08,512.38 87.16,513.38 86.78,513.72 L86.38,513.72 C86.00,513.38 84.08,512.38 84.08,511.71 C84.08,511.04 86.00,510.03 86.38,509.70 Z" fill="#dc7bef"/>
<line x1="67.53" y1="518.96" x2="77.05" y2="518.96" stroke="#2a2a55" stroke-width="1.0"/>
<line x1="65.85" y1="528.99" x2="78.73" y2="528.99" stroke="#2a2a55" stroke-width="1.3"/>
<line x1="66.95" y1="537.73" x2="77.63" y2="537.73" stroke="#2a2a55" stroke-width="1.0"/>
<circle cx="72.39" cy="504.58" r="2.55" fill="#fff" stroke="#000" stroke-width="1.0"/>
<circle cx="69.88" cy="517.33" r="2.55" fill="#fff" stroke="#000" stroke-width="1.0"/>
<circle cx="74.81" cy="516.43" r="2.55" fill="#fff" stroke="#000" stroke-width="1.0"/>
<circle cx="72.49" cy="524.47" r="2.55" fill="#fff" stroke="#000" stroke-width="1.0"/>
<circle cx="77.12" cy="523.86" r="2.55" fill="#fff" stroke="#000" stroke-width="1.0"/>
<circle cx="67.56" cy="527.78" r="2.55" fill="#fff" stroke="#000" stroke-width="1.0"/>
<circle cx="72.49" cy="530.19" r="2.55" fill="#fff" stroke="#000" stroke-width="1.0"/>
<circle cx="76.82" cy="532.6" r="2.55" fill="#fff" stroke="#000" stroke-width="1.0"/>
<circle cx="67.56" cy="535.62" r="2.55" fill="#fff" stroke="#000" stroke-width="1.0"/>
<circle cx="72.19" cy="538.43" r="2.55" fill="#fff" stroke="#000" stroke-width="1.0"/>
<circle cx="77.12" cy="538.43" r="2.55" fill="#fff" stroke="#000" stroke-width="1.0"/>
<circle cx="72.39" cy="545.76" r="2.55" fill="#fff" stroke="#000" stroke-width="1.0"/>
<circle cx="86.69" cy="471.93" r="3.1" fill="#000"/>
<circle cx="83.06" cy="510.5" r="3.1" fill="#000"/>
<circle cx="86.79" cy="509.5" r="3.1" fill="#000"/>
<circle cx="90.61" cy="510.2" r="3.1" fill="#000"/>
<circle cx="91.11" cy="513.22" r="3.1" fill="#000"/>
<circle cx="87.29" cy="515.02" r="3.1" fill="#000"/>
<circle cx="82.56" cy="514.52" r="3.1" fill="#000"/>
<circle cx="86.28" cy="512.71" r="3.1" fill="#000"/>
<circle cx="86.58" cy="523.06" r="3.1" fill="#000"/>
<circle cx="86.58" cy="536.02" r="3.1" fill="#000"/>
<path d="M119.00,510.00 C119.25,510.33 120.42,511.00 120.50,512.00 C120.58,513.00 119.83,514.50 119.50,516.00 C119.17,517.50 118.25,519.33 118.50,521.00 C118.75,522.67 120.50,524.50 121.00,526.00 C121.50,527.50 121.75,528.67 121.50,530.00 C121.25,531.33 120.20,532.67 119.50,534.00 C118.80,535.33 117.80,536.67 117.30,538.00 C116.80,539.33 116.72,540.83 116.50,542.00 C116.28,543.17 116.08,544.50 116.00,545.00 L115.00,545.00 C114.92,544.50 114.72,543.17 114.50,542.00 C114.28,540.83 114.20,539.33 113.70,538.00 C113.20,536.67 112.20,535.33 111.50,534.00 C110.80,532.67 109.75,531.33 109.50,530.00 C109.25,528.67 109.50,527.50 110.00,526.00 C110.50,524.50 112.25,522.67 112.50,521.00 C112.75,519.33 111.83,517.50 111.50,516.00 C111.17,514.50 110.42,513.00 110.50,512.00 C110.58,511.00 111.75,510.33 112.00,510.00 Z" fill="#7f7ffb"/>
<path d="M134.00,498.50 C134.33,499.25 135.58,501.08 136.00,503.00 C136.42,504.92 136.58,508.17 136.50,510.00 C136.42,511.83 136.03,512.67 135.50,514.00 C134.97,515.33 133.77,516.67 133.30,518.00 C132.83,519.33 132.67,520.50 132.70,522.00 C132.73,523.50 133.37,525.33 133.50,527.00 C133.63,528.67 133.75,530.50 133.50,532.00 C133.25,533.50 132.58,535.00 132.00,536.00 C131.42,537.00 130.33,537.67 130.00,538.00 L129.00,538.00 C128.67,537.67 127.58,537.00 127.00,536.00 C126.42,535.00 125.75,533.50 125.50,532.00 C125.25,530.50 125.37,528.67 125.50,527.00 C125.63,525.33 126.27,523.50 126.30,522.00 C126.33,520.50 126.17,519.33 125.70,518.00 C125.23,516.67 124.03,515.33 123.50,514.00 C122.97,512.67 122.58,511.83 122.50,510.00 C122.42,508.17 122.58,504.92 123.00,503.00 C123.42,501.08 124.67,499.25 125.00,498.50 Z" fill="#dc7bef"/>
<line x1="111.29" y1="513.95" x2="119.71" y2="513.95" stroke="#2a2a55" stroke-width="1.0"/>
<line x1="110.2" y1="526.8" x2="120.8" y2="526.8" stroke="#2a2a55" stroke-width="1.3"/>
<line x1="110.32" y1="531.05" x2="120.68" y2="531.05" stroke="#2a2a55" stroke-width="1.0"/>
<line x1="123.16" y1="504.95" x2="135.84" y2="504.95" stroke="#442244" stroke-width="1.0"/>
<line x1="123.55" y1="513.0" x2="135.45" y2="513.0" stroke="#442244" stroke-width="1.3"/>
<line x1="125.8" y1="528.1" x2="133.2" y2="528.1" stroke="#442244" stroke-width="1.0"/>
<circle cx="110.5" cy="512.3" r="2.55" fill="#fff" stroke="#000" stroke-width="1.0"/>
<circle cx="113.8" cy="510.8" r="2.55" fill="#fff" stroke="#000" stroke-width="1.0"/>
<circle cx="116.8" cy="515.6" r="2.55" fill="#fff" stroke="#000" stroke-width="1.0"/>
<circle cx="115.5" cy="521.3" r="2.55" fill="#fff" stroke="#000" stroke-width="1.0"/>
<circle cx="110.8" cy="526.8" r="2.55" fill="#fff" stroke="#000" stroke-width="1.0"/>
<circle cx="113.8" cy="530.1" r="2.55" fill="#fff" stroke="#000" stroke-width="1.0"/>
<circle cx="116.8" cy="529.2" r="2.55" fill="#fff" stroke="#000" stroke-width="1.0"/>
<circle cx="119.7" cy="532" r="2.55" fill="#fff" stroke="#000" stroke-width="1.0"/>
<circle cx="115.1" cy="544.9" r="2.55" fill="#fff" stroke="#000" stroke-width="1.0"/>
<circle cx="134.2" cy="499.5" r="3.1" fill="#000"/>
<circle cx="125" cy="503.1" r="3.1" fill="#000"/>
<circle cx="134.2" cy="506.8" r="3.1" fill="#000"/>
<circle cx="125" cy="510.4" r="3.1" fill="#000"/>
<circle cx="129.2" cy="513.4" r="3.1" fill="#000"/>
<circle cx="134.4" cy="513" r="3.1" fill="#000"/>
<circle cx="127.3" cy="526.5" r="3.1" fill="#000"/>
<circle cx="131.8" cy="529.7" r="3.1" fill="#000"/>
<circle cx="129.6" cy="536.2" r="3.1" fill="#000"/>
<path d="M158.80,507.00 C158.85,507.67 159.03,509.50 159.10,511.00 C159.17,512.50 158.92,514.67 159.20,516.00 C159.48,517.33 160.20,518.00 160.80,519.00 C161.40,520.00 162.25,520.83 162.80,522.00 C163.35,523.17 163.82,524.50 164.10,526.00 C164.38,527.50 164.63,529.50 164.50,531.00 C164.37,532.50 163.83,534.00 163.30,535.00 C162.77,536.00 161.63,536.67 161.30,537.00 L155.30,537.00 C154.97,536.67 153.83,536.00 153.30,535.00 C152.77,534.00 152.23,532.50 152.10,531.00 C151.97,529.50 152.22,527.50 152.50,526.00 C152.78,524.50 153.25,523.17 153.80,522.00 C154.35,520.83 155.20,520.00 155.80,519.00 C156.40,518.00 157.12,517.33 157.40,516.00 C157.68,514.67 157.43,512.50 157.50,511.00 C157.57,509.50 157.75,507.67 157.80,507.00 Z" fill="#7f7ffb"/>
<path d="M175.80,499.50 C175.83,500.42 175.92,503.25 176.00,505.00 C176.08,506.75 176.00,508.50 176.30,510.00 C176.60,511.50 177.30,512.67 177.80,514.00 C178.30,515.33 179.05,516.33 179.30,518.00 C179.55,519.67 179.38,522.17 179.30,524.00 C179.22,525.83 179.38,527.83 178.80,529.00 C178.22,530.17 176.30,530.67 175.80,531.00 L169.80,531.00 C169.30,530.67 167.38,530.17 166.80,529.00 C166.22,527.83 166.38,525.83 166.30,524.00 C166.22,522.17 166.05,519.67 166.30,518.00 C166.55,516.33 167.30,515.33 167.80,514.00 C168.30,512.67 169.00,511.50 169.30,510.00 C169.60,508.50 169.52,506.75 169.60,505.00 C169.68,503.25 169.77,500.42 169.80,499.50 Z" fill="#dc7bef"/>
<line x1="155.38" y1="520.08" x2="161.22" y2="520.08" stroke="#2a2a55" stroke-width="1.0"/>
<line x1="152.61" y1="528.35" x2="163.99" y2="528.35" stroke="#2a2a55" stroke-width="1.3"/>
<line x1="153.63" y1="535.03" x2="162.97" y2="535.03" stroke="#2a2a55" stroke-width="1.0"/>
<line x1="169.78" y1="506.95" x2="175.82" y2="506.95" stroke="#442244" stroke-width="1.0"/>
<line x1="166.6" y1="519.2" x2="179.0" y2="519.2" stroke="#442244" stroke-width="1.3"/>
<line x1="166.87" y1="526.65" x2="178.74" y2="526.65" stroke="#442244" stroke-width="1.0"/>
<circle cx="158.1" cy="507.1" r="2.55" fill="#fff" stroke="#000" stroke-width="1.0"/>
<circle cx="153.9" cy="524.4" r="2.55" fill="#fff" stroke="#000" stroke-width="1.0"/>
<circle cx="162.8" cy="527" r="2.55" fill="#fff" stroke="#000" stroke-width="1.0"/>
<circle cx="153.9" cy="529.7" r="2.55" fill="#fff" stroke="#000" stroke-width="1.0"/>
<circle cx="162.8" cy="534.7" r="2.55" fill="#fff" stroke="#000" stroke-width="1.0"/>
<circle cx="153.9" cy="536" r="2.55" fill="#fff" stroke="#000" stroke-width="1.0"/>
<circle cx="172.3" cy="500.5" r="3.1" fill="#000"/>
<circle cx="172.3" cy="509.1" r="3.1" fill="#000"/>
<circle cx="177.5" cy="517.9" r="3.1" fill="#000"/>
<circle cx="167.7" cy="520.5" r="3.1" fill="#000"/>
<circle cx="177.5" cy="525.5" r="3.1" fill="#000"/>
<circle cx="168.1" cy="530.1" r="3.1" fill="#000"/>
<path d="M208.67,495.94 C208.92,496.56 209.59,498.36 210.17,499.65 C210.75,500.94 211.39,501.83 212.17,503.67 C212.95,505.51 214.62,508.69 214.87,510.70 C215.12,512.71 214.12,514.22 213.67,515.73 C213.22,517.24 212.17,518.40 212.17,519.74 C212.17,521.08 213.17,522.59 213.67,523.76 C214.17,524.93 215.25,525.44 215.17,526.78 C215.09,528.12 214.00,530.29 213.17,531.80 C212.34,533.31 210.92,534.72 210.17,535.82 C209.42,536.93 208.92,538.00 208.67,538.43 L207.67,538.43 C207.42,538.00 206.92,536.93 206.17,535.82 C205.42,534.72 204.00,533.31 203.17,531.80 C202.34,530.29 201.25,528.12 201.17,526.78 C201.09,525.44 202.17,524.93 202.67,523.76 C203.17,522.59 204.17,521.08 204.17,519.74 C204.17,518.40 203.12,517.24 202.67,515.73 C202.22,514.22 201.22,512.71 201.47,510.70 C201.72,508.69 203.39,505.51 204.17,503.67 C204.95,501.83 205.59,500.94 206.17,499.65 C206.75,498.36 207.42,496.56 207.67,495.94 Z" fill="#7f7ffb"/>
<path d="M224.17,499.35 C224.70,499.74 226.59,500.27 227.37,501.66 C228.15,503.05 228.84,505.68 228.87,507.69 C228.90,509.70 227.57,512.05 227.57,513.72 C227.57,515.39 228.90,516.07 228.87,517.74 C228.84,519.41 227.87,521.75 227.37,523.76 C226.87,525.77 226.45,528.40 225.87,529.79 C225.29,531.18 224.20,531.72 223.87,532.10 L222.87,532.10 C222.54,531.72 221.45,531.18 220.87,529.79 C220.29,528.40 219.87,525.77 219.37,523.76 C218.87,521.75 217.90,519.41 217.87,517.74 C217.84,516.07 219.17,515.39 219.17,513.72 C219.17,512.05 217.84,509.70 217.87,507.69 C217.90,505.68 218.59,503.05 219.37,501.66 C220.15,500.27 222.04,499.74 222.57,499.35 Z" fill="#dc7bef"/>
<line x1="202.66" y1="508.39" x2="213.68" y2="508.39" stroke="#2a2a55" stroke-width="1.0"/>
<line x1="202.78" y1="514.92" x2="213.56" y2="514.92" stroke="#2a2a55" stroke-width="1.3"/>
<line x1="201.92" y1="525.87" x2="214.42" y2="525.87" stroke="#2a2a55" stroke-width="1.0"/>
<line x1="219.62" y1="501.86" x2="227.12" y2="501.86" stroke="#442244" stroke-width="1.0"/>
<line x1="219.08" y1="514.92" x2="227.66" y2="514.92" stroke="#442244" stroke-width="1.3"/>
<line x1="218.42" y1="518.74" x2="228.32" y2="518.74" stroke="#442244" stroke-width="1.0"/>
<circle cx="208.57" cy="495.84" r="2.55" fill="#fff" stroke="#000" stroke-width="1.0"/>
<circle cx="206.96" cy="508.39" r="2.55" fill="#fff" stroke="#000" stroke-width="1.0"/>
<circle cx="210.18" cy="506.79" r="2.55" fill="#fff" stroke="#000" stroke-width="1.0"/>
<circle cx="204.14" cy="512.21" r="2.55" fill="#fff" stroke="#000" stroke-width="1.0"/>
<circle cx="210.18" cy="512.21" r="2.55" fill="#fff" stroke="#000" stroke-width="1.0"/>
<circle cx="206.96" cy="514.92" r="2.55" fill="#fff" stroke="#000" stroke-width="1.0"/>
<circle cx="204.14" cy="525.87" r="2.55" fill="#fff" stroke="#000" stroke-width="1.0"/>
<circle cx="207.47" cy="525.87" r="2.55" fill="#fff" stroke="#000" stroke-width="1.0"/>
<circle cx="213.5" cy="525.87" r="2.55" fill="#fff" stroke="#000" stroke-width="1.0"/>
<circle cx="210.18" cy="528.69" r="2.55" fill="#fff" stroke="#000" stroke-width="1.0"/>
<circle cx="208.57" cy="538.53" r="2.55" fill="#fff" stroke="#000" stroke-width="1.0"/>
<circle cx="218.44" cy="501.86" r="3.1" fill="#000"/>
<circle cx="221.15" cy="500.66" r="3.1" fill="#000"/>
<circle cx="224.48" cy="499.65" r="3.1" fill="#000"/>
<circle cx="224.48" cy="507.29" r="3.1" fill="#000"/>
<circle cx="218.44" cy="511.11" r="3.1" fill="#000"/>
<circle cx="219.54" cy="514.92" r="3.1" fill="#000"/>
<circle cx="226.09" cy="516.63" r="3.1" fill="#000"/>
<circle cx="218.94" cy="517.74" r="3.1" fill="#000"/>
<circle cx="223.37" cy="518.74" r="3.1" fill="#000"/>
<circle cx="224.48" cy="527.58" r="3.1" fill="#000"/>
<circle cx="221.15" cy="531.9" r="3.1" fill="#000"/>
<path d="M257.20,493.00 C257.03,493.67 256.78,495.33 256.20,497.00 C255.62,498.67 253.53,501.00 253.70,503.00 C253.87,505.00 256.62,507.17 257.20,509.00 C257.78,510.83 257.70,512.17 257.20,514.00 C256.70,515.83 254.95,518.00 254.20,520.00 C253.45,522.00 253.12,524.33 252.70,526.00 C252.28,527.67 251.87,529.33 251.70,530.00 L250.70,530.00 C250.53,529.33 250.12,527.67 249.70,526.00 C249.28,524.33 248.95,522.00 248.20,520.00 C247.45,518.00 245.70,515.83 245.20,514.00 C244.70,512.17 244.62,510.83 245.20,509.00 C245.78,507.17 248.53,505.00 248.70,503.00 C248.87,501.00 246.78,498.67 246.20,497.00 C245.62,495.33 245.37,493.67 245.20,493.00 Z" fill="#7f7ffb"/>
<path d="M267.50,491.40 C267.75,492.00 268.58,493.57 269.00,495.00 C269.42,496.43 269.58,498.17 270.00,500.00 C270.42,501.83 271.08,504.00 271.50,506.00 C271.92,508.00 272.67,510.17 272.50,512.00 C272.33,513.83 271.08,515.33 270.50,517.00 C269.92,518.67 269.32,520.17 269.00,522.00 C268.68,523.83 268.77,526.33 268.60,528.00 C268.43,529.67 268.35,531.08 268.00,532.00 C267.65,532.92 266.75,533.25 266.50,533.50 L265.50,533.50 C265.25,533.25 264.35,532.92 264.00,532.00 C263.65,531.08 263.57,529.67 263.40,528.00 C263.23,526.33 263.32,523.83 263.00,522.00 C262.68,520.17 262.08,518.67 261.50,517.00 C260.92,515.33 259.67,513.83 259.50,512.00 C259.33,510.17 260.08,508.00 260.50,506.00 C260.92,504.00 261.58,501.83 262.00,500.00 C262.42,498.17 262.58,496.43 263.00,495.00 C263.42,493.57 264.25,492.00 264.50,491.40 Z" fill="#dc7bef"/>
<line x1="246.1" y1="495.4" x2="256.3" y2="495.4" stroke="#2a2a55" stroke-width="1.0"/>
<line x1="245.5" y1="509.0" x2="256.9" y2="509.0" stroke="#2a2a55" stroke-width="1.3"/>
<line x1="245.82" y1="514.65" x2="256.57" y2="514.65" stroke="#2a2a55" stroke-width="1.0"/>
<line x1="262.2" y1="500.4" x2="269.8" y2="500.4" stroke="#442244" stroke-width="1.0"/>
<line x1="259.86" y1="512.15" x2="272.14" y2="512.15" stroke="#442244" stroke-width="1.3"/>
<line x1="262.88" y1="520.6" x2="269.12" y2="520.6" stroke="#442244" stroke-width="1.0"/>
<circle cx="246.8" cy="493.4" r="2.55" fill="#fff" stroke="#000" stroke-width="1.0"/>
<circle cx="255.8" cy="494.5" r="2.55" fill="#fff" stroke="#000" stroke-width="1.0"/>
<circle cx="251.1" cy="498.1" r="2.55" fill="#fff" stroke="#000" stroke-width="1.0"/>
<circle cx="251.1" cy="507.5" r="2.55" fill="#fff" stroke="#000" stroke-width="1.0"/>
<circle cx="246.8" cy="510.5" r="2.55" fill="#fff" stroke="#000" stroke-width="1.0"/>
<circle cx="255.8" cy="512.1" r="2.55" fill="#fff" stroke="#000" stroke-width="1.0"/>
<circle cx="251.1" cy="515.5" r="2.55" fill="#fff" stroke="#000" stroke-width="1.0"/>
<circle cx="251.1" cy="530.2" r="2.55" fill="#fff" stroke="#000" stroke-width="1.0"/>
<circle cx="265.5" cy="491.4" r="3.1" fill="#000"/>
<circle cx="270.1" cy="499.4" r="3.1" fill="#000"/>
<circle cx="265.5" cy="503.4" r="3.1" fill="#000"/>
<circle cx="265.5" cy="510.8" r="3.1" fill="#000"/>
<circle cx="261.1" cy="513.5" r="3.1" fill="#000"/>
<circle cx="270.1" cy="513.7" r="3.1" fill="#000"/>
<circle cx="265.5" cy="522.9" r="3.1" fill="#000"/>
<circle cx="265.5" cy="532.5" r="3.1" fill="#000"/>
<path d="M294.60,504.00 C294.67,504.67 294.68,506.67 295.00,508.00 C295.32,509.33 295.83,510.67 296.50,512.00 C297.17,513.33 298.33,514.50 299.00,516.00 C299.67,517.50 300.25,519.17 300.50,521.00 C300.75,522.83 300.75,525.33 300.50,527.00 C300.25,528.67 299.67,529.67 299.00,531.00 C298.33,532.33 297.13,533.83 296.50,535.00 C295.87,536.17 295.53,537.00 295.20,538.00 C294.87,539.00 294.62,540.50 294.50,541.00 L293.50,541.00 C293.38,540.50 293.13,539.00 292.80,538.00 C292.47,537.00 292.13,536.17 291.50,535.00 C290.87,533.83 289.67,532.33 289.00,531.00 C288.33,529.67 287.75,528.67 287.50,527.00 C287.25,525.33 287.25,522.83 287.50,521.00 C287.75,519.17 288.33,517.50 289.00,516.00 C289.67,514.50 290.83,513.33 291.50,512.00 C292.17,510.67 292.68,509.33 293.00,508.00 C293.32,506.67 293.33,504.67 293.40,504.00 Z" fill="#7f7ffb"/>
<path d="M310.30,481.00 C310.63,481.67 311.63,483.50 312.30,485.00 C312.97,486.50 313.75,488.17 314.30,490.00 C314.85,491.83 315.43,493.50 315.60,496.00 C315.77,498.50 315.38,502.33 315.30,505.00 C315.22,507.67 315.18,509.50 315.10,512.00 C315.02,514.50 315.02,517.67 314.80,520.00 C314.58,522.33 314.12,524.17 313.80,526.00 C313.48,527.83 313.07,529.17 312.90,531.00 C312.73,532.83 312.98,535.33 312.80,537.00 C312.62,538.67 312.38,539.92 311.80,541.00 C311.22,542.08 309.72,543.08 309.30,543.50 L307.30,543.50 C306.88,543.08 305.38,542.08 304.80,541.00 C304.22,539.92 303.98,538.67 303.80,537.00 C303.62,535.33 303.87,532.83 303.70,531.00 C303.53,529.17 303.12,527.83 302.80,526.00 C302.48,524.17 302.02,522.33 301.80,520.00 C301.58,517.67 301.58,514.50 301.50,512.00 C301.42,509.50 301.38,507.67 301.30,505.00 C301.22,502.33 300.83,498.50 301.00,496.00 C301.17,493.50 301.75,491.83 302.30,490.00 C302.85,488.17 303.63,486.50 304.30,485.00 C304.97,483.50 305.97,481.67 306.30,481.00 Z" fill="#dc7bef"/>
<line x1="289.25" y1="516.17" x2="298.75" y2="516.17" stroke="#2a2a55" stroke-width="1.0"/>
<line x1="287.8" y1="524.55" x2="300.2" y2="524.55" stroke="#2a2a55" stroke-width="1.3"/>
<line x1="288.75" y1="529.53" x2="299.25" y2="529.53" stroke="#2a2a55" stroke-width="1.0"/>
<line x1="301.39" y1="495.6" x2="315.21" y2="495.6" stroke="#442244" stroke-width="1.0"/>
<line x1="301.7" y1="508.45" x2="314.9" y2="508.45" stroke="#442244" stroke-width="1.3"/>
<line x1="303.91" y1="530.53" x2="312.69" y2="530.53" stroke="#442244" stroke-width="1.0"/>
<circle cx="293.9" cy="503.8" r="2.55" fill="#fff" stroke="#000" stroke-width="1.0"/>
<circle cx="289.6" cy="515.5" r="2.55" fill="#fff" stroke="#000" stroke-width="1.0"/>
<circle cx="293.9" cy="518.2" r="2.55" fill="#fff" stroke="#000" stroke-width="1.0"/>
<circle cx="298.6" cy="522.9" r="2.55" fill="#fff" stroke="#000" stroke-width="1.0"/>
<circle cx="289.6" cy="526.2" r="2.55" fill="#fff" stroke="#000" stroke-width="1.0"/>
<circle cx="298.6" cy="527.5" r="2.55" fill="#fff" stroke="#000" stroke-width="1.0"/>
<circle cx="293.9" cy="530.2" r="2.55" fill="#fff" stroke="#000" stroke-width="1.0"/>
<circle cx="293.9" cy="540.9" r="2.55" fill="#fff" stroke="#000" stroke-width="1.0"/>
<circle cx="308.2" cy="481.1" r="3.1" fill="#000"/>
<circle cx="303.6" cy="495" r="3.1" fill="#000"/>
<circle cx="312.7" cy="497.4" r="3.1" fill="#000"/>
<circle cx="303.6" cy="506.8" r="3.1" fill="#000"/>
<circle cx="312.7" cy="510.1" r="3.1" fill="#000"/>
<circle cx="308" cy="519.5" r="3.1" fill="#000"/>
<circle cx="308" cy="534.2" r="3.1" fill="#000"/>
<circle cx="308" cy="540.3" r="3.1" fill="#000"/>
<text x="124.2" y="363.7" font-size="14" font-weight="bold" text-anchor="middle" textLength="60.8" lengthAdjust="spacingAndGlyphs">wildtype</text>
<text x="256.5" y="363.7" font-size="14" font-weight="bold" text-anchor="middle" textLength="52.8" lengthAdjust="spacingAndGlyphs">tgDISC1</text>
<path d="M69.47,496.04 V457.16 H86.89 V463.49" fill="none" stroke="#000" stroke-width="1.5"/>
<path d="M77.83,441.40L77.83,447.40M74.85,442.88L80.81,445.92M80.81,442.88L74.85,445.92" stroke="#000" stroke-width="1.85" stroke-linecap="round" fill="none"/>
<circle cx="77.83" cy="444.40" r="1.6" fill="#000"/>
<path d="M410,91.5 V267 H673.5" fill="none" stroke="#000" stroke-width="1.5"/>
<line x1="402.7" y1="267.0" x2="410" y2="267.0" stroke="#000" stroke-width="1.5"/>
<text x="400.3" y="272.0" font-size="13.1" font-weight="bold" text-anchor="end" textLength="7.1" lengthAdjust="spacingAndGlyphs">0</text>
<line x1="402.7" y1="231.9" x2="410" y2="231.9" stroke="#000" stroke-width="1.5"/>
<text x="400.3" y="236.9" font-size="13.1" font-weight="bold" text-anchor="end" textLength="14.2" lengthAdjust="spacingAndGlyphs">50</text>
<line x1="402.7" y1="196.8" x2="410" y2="196.8" stroke="#000" stroke-width="1.5"/>
<text x="400.3" y="201.8" font-size="13.1" font-weight="bold" text-anchor="end" textLength="21.3" lengthAdjust="spacingAndGlyphs">100</text>
<line x1="402.7" y1="161.7" x2="410" y2="161.7" stroke="#000" stroke-width="1.5"/>
<text x="400.3" y="166.7" font-size="13.1" font-weight="bold" text-anchor="end" textLength="21.3" lengthAdjust="spacingAndGlyphs">150</text>
<line x1="402.7" y1="126.60000000000002" x2="410" y2="126.60000000000002" stroke="#000" stroke-width="1.5"/>
<text x="400.3" y="131.60000000000002" font-size="13.1" font-weight="bold" text-anchor="end" textLength="21.3" lengthAdjust="spacingAndGlyphs">200</text>
<line x1="402.7" y1="91.5" x2="410" y2="91.5" stroke="#000" stroke-width="1.5"/>
<text x="400.3" y="96.5" font-size="13.1" font-weight="bold" text-anchor="end" textLength="21.3" lengthAdjust="spacingAndGlyphs">250</text>
<line x1="409.9" y1="267" x2="409.9" y2="274" stroke="#000" stroke-width="1.5"/>
<text x="409.9" y="289" font-size="12.7" font-weight="bold" text-anchor="middle">0</text>
<line x1="475.79999999999995" y1="267" x2="475.79999999999995" y2="274" stroke="#000" stroke-width="1.5"/>
<text x="475.79999999999995" y="289" font-size="12.7" font-weight="bold" text-anchor="middle">4</text>
<line x1="541.7" y1="267" x2="541.7" y2="274" stroke="#000" stroke-width="1.5"/>
<text x="541.7" y="289" font-size="12.7" font-weight="bold" text-anchor="middle">8</text>
<line x1="607.6" y1="267" x2="607.6" y2="274" stroke="#000" stroke-width="1.5"/>
<text x="607.6" y="289" font-size="12.7" font-weight="bold" text-anchor="middle">12</text>
<line x1="673.5" y1="267" x2="673.5" y2="274" stroke="#000" stroke-width="1.5"/>
<text x="673.5" y="289" font-size="12.7" font-weight="bold" text-anchor="middle">16</text>
<text transform="translate(370.7,179.8) rotate(-90)" font-size="13.9" text-anchor="middle" textLength="82.5" lengthAdjust="spacingAndGlyphs">interaction [s]</text>
<path d="M403,267 H410" stroke="#000" stroke-width="1.5"/>
<text x="541" y="68.1" font-size="14" font-weight="bold" text-anchor="middle" textLength="53.4" lengthAdjust="spacingAndGlyphs">tgDISC1</text>
<text x="541.8" y="304.6" font-size="13.8" font-weight="bold" text-anchor="middle" textLength="119.6" lengthAdjust="spacingAndGlyphs">blood-level [ng/ml]</text>
<line x1="442.6" y1="223.3" x2="658.4" y2="202.8" stroke="#c63be6" stroke-width="1.05"/>
<line x1="442.6" y1="245.8" x2="658.4" y2="246.4" stroke="#6259f4" stroke-width="1.3"/>
<polygon points="438.70,212.70 440.65,209.60 444.55,209.60 446.50,212.70 444.55,215.80 440.65,215.80" fill="#e9a6f5" stroke="#c63ee6" stroke-width="1.5"/>
<circle cx="442.6" cy="212.7" r="1.3" fill="#c63ee6"/>
<polygon points="438.70,230.60 440.65,227.50 444.55,227.50 446.50,230.60 444.55,233.70 440.65,233.70" fill="#e9a6f5" stroke="#c63ee6" stroke-width="1.5"/>
<circle cx="442.6" cy="230.6" r="1.3" fill="#c63ee6"/>
<polygon points="474.70,193.40 476.65,190.30 480.55,190.30 482.50,193.40 480.55,196.50 476.65,196.50" fill="#e9a6f5" stroke="#c63ee6" stroke-width="1.5"/>
<circle cx="478.6" cy="193.4" r="1.3" fill="#c63ee6"/>
<polygon points="471.70,212.20 473.65,209.10 477.55,209.10 479.50,212.20 477.55,215.30 473.65,215.30" fill="#e9a6f5" stroke="#c63ee6" stroke-width="1.5"/>
<circle cx="475.6" cy="212.2" r="1.3" fill="#c63ee6"/>
<polygon points="465.50,215.60 467.45,212.50 471.35,212.50 473.30,215.60 471.35,218.70 467.45,218.70" fill="#e9a6f5" stroke="#c63ee6" stroke-width="1.5"/>
<circle cx="469.4" cy="215.6" r="1.3" fill="#c63ee6"/>
<polygon points="473.50,226.40 475.45,223.30 479.35,223.30 481.30,226.40 479.35,229.50 475.45,229.50" fill="#e9a6f5" stroke="#c63ee6" stroke-width="1.5"/>
<circle cx="477.4" cy="226.4" r="1.3" fill="#c63ee6"/>
<polygon points="461.60,230.30 463.55,227.20 467.45,227.20 469.40,230.30 467.45,233.40 463.55,233.40" fill="#e9a6f5" stroke="#c63ee6" stroke-width="1.5"/>
<circle cx="465.5" cy="230.3" r="1.3" fill="#c63ee6"/>
<polygon points="456.60,239.00 458.55,235.90 462.45,235.90 464.40,239.00 462.45,242.10 458.55,242.10" fill="#e9a6f5" stroke="#c63ee6" stroke-width="1.5"/>
<circle cx="460.5" cy="239" r="1.3" fill="#c63ee6"/>
<polygon points="499.80,217.40 501.75,214.30 505.65,214.30 507.60,217.40 505.65,220.50 501.75,220.50" fill="#e9a6f5" stroke="#c63ee6" stroke-width="1.5"/>
<circle cx="503.7" cy="217.4" r="1.3" fill="#c63ee6"/>
<polygon points="502.80,223.60 504.75,220.50 508.65,220.50 510.60,223.60 508.65,226.70 504.75,226.70" fill="#e9a6f5" stroke="#c63ee6" stroke-width="1.5"/>
<circle cx="506.7" cy="223.6" r="1.3" fill="#c63ee6"/>
<polygon points="548.90,206.00 550.85,202.90 554.75,202.90 556.70,206.00 554.75,209.10 550.85,209.10" fill="#e9a6f5" stroke="#c63ee6" stroke-width="1.5"/>
<circle cx="552.8" cy="206" r="1.3" fill="#c63ee6"/>
<polygon points="555.60,219.40 557.55,216.30 561.45,216.30 563.40,219.40 561.45,222.50 557.55,222.50" fill="#e9a6f5" stroke="#c63ee6" stroke-width="1.5"/>
<circle cx="559.5" cy="219.4" r="1.3" fill="#c63ee6"/>
<polygon points="543.80,233.90 545.75,230.80 549.65,230.80 551.60,233.90 549.65,237.00 545.75,237.00" fill="#e9a6f5" stroke="#c63ee6" stroke-width="1.5"/>
<circle cx="547.7" cy="233.9" r="1.3" fill="#c63ee6"/>
<polygon points="591.60,124.70 593.55,121.60 597.45,121.60 599.40,124.70 597.45,127.80 593.55,127.80" fill="#e9a6f5" stroke="#c63ee6" stroke-width="1.5"/>
<circle cx="595.5" cy="124.7" r="1.3" fill="#c63ee6"/>
<polygon points="654.60,151.00 656.55,147.90 660.45,147.90 662.40,151.00 660.45,154.10 656.55,154.10" fill="#e9a6f5" stroke="#c63ee6" stroke-width="1.5"/>
<circle cx="658.5" cy="151" r="1.3" fill="#c63ee6"/>
<polygon points="598.60,228.80 600.55,225.70 604.45,225.70 606.40,228.80 604.45,231.90 600.55,231.90" fill="#e9a6f5" stroke="#c63ee6" stroke-width="1.5"/>
<circle cx="602.5" cy="228.8" r="1.3" fill="#c63ee6"/>
<polygon points="646.00,220.50 647.95,217.40 651.85,217.40 653.80,220.50 651.85,223.60 647.95,223.60" fill="#e9a6f5" stroke="#c63ee6" stroke-width="1.5"/>
<circle cx="649.9" cy="220.5" r="1.3" fill="#c63ee6"/>
<polygon points="626.30,255.60 628.25,252.50 632.15,252.50 634.10,255.60 632.15,258.70 628.25,258.70" fill="#e9a6f5" stroke="#c63ee6" stroke-width="1.5"/>
<circle cx="630.2" cy="255.6" r="1.3" fill="#c63ee6"/>
<polygon points="647.70,229.50 649.65,226.40 653.55,226.40 655.50,229.50 653.55,232.60 649.65,232.60" fill="#e9a6f5" stroke="#c63ee6" stroke-width="1.5"/>
<circle cx="651.6" cy="229.5" r="1.3" fill="#c63ee6"/>
<circle cx="442.6" cy="234.5" r="2.65" fill="none" stroke="#1a12f5" stroke-width="2.0"/>
<circle cx="442.6" cy="236.7" r="2.65" fill="none" stroke="#1a12f5" stroke-width="2.0"/>
<circle cx="465.5" cy="238.7" r="2.65" fill="none" stroke="#1a12f5" stroke-width="2.0"/>
<circle cx="469.4" cy="240.3" r="2.65" fill="none" stroke="#1a12f5" stroke-width="2.0"/>
<circle cx="460.6" cy="253.7" r="2.65" fill="none" stroke="#1a12f5" stroke-width="2.0"/>
<circle cx="475.6" cy="250.4" r="2.65" fill="none" stroke="#1a12f5" stroke-width="2.0"/>
<circle cx="479.4" cy="252.9" r="2.65" fill="none" stroke="#1a12f5" stroke-width="2.0"/>
<circle cx="477.2" cy="259.6" r="2.65" fill="none" stroke="#1a12f5" stroke-width="2.0"/>
<circle cx="503.7" cy="236.9" r="2.65" fill="none" stroke="#1a12f5" stroke-width="2.0"/>
<circle cx="506.7" cy="253.7" r="2.65" fill="none" stroke="#1a12f5" stroke-width="2.0"/>
<circle cx="547.7" cy="241.6" r="2.65" fill="none" stroke="#1a12f5" stroke-width="2.0"/>
<circle cx="553.3" cy="237.4" r="2.65" fill="none" stroke="#1a12f5" stroke-width="2.0"/>
<circle cx="559.5" cy="251.2" r="2.65" fill="none" stroke="#1a12f5" stroke-width="2.0"/>
<circle cx="595.8" cy="261.6" r="2.65" fill="none" stroke="#1a12f5" stroke-width="2.0"/>
<circle cx="602.5" cy="258.6" r="2.65" fill="none" stroke="#1a12f5" stroke-width="2.0"/>
<circle cx="630.2" cy="249.6" r="2.65" fill="none" stroke="#1a12f5" stroke-width="2.0"/>
<circle cx="649.9" cy="241.2" r="2.65" fill="none" stroke="#1a12f5" stroke-width="2.0"/>
<circle cx="658.3" cy="244.2" r="2.65" fill="none" stroke="#1a12f5" stroke-width="2.0"/>
<circle cx="651.6" cy="229.5" r="2.65" fill="none" stroke="#1a12f5" stroke-width="2.0"/>
<path d="M410,377 V554.5 H676" fill="none" stroke="#000" stroke-width="1.5"/>
<line x1="402.7" y1="554.5" x2="410" y2="554.5" stroke="#000" stroke-width="1.5"/>
<text x="400.3" y="559.5" font-size="13.1" font-weight="bold" text-anchor="end" textLength="7.1" lengthAdjust="spacingAndGlyphs">0</text>
<line x1="402.7" y1="519.0" x2="410" y2="519.0" stroke="#000" stroke-width="1.5"/>
<text x="400.3" y="524.0" font-size="13.1" font-weight="bold" text-anchor="end" textLength="14.2" lengthAdjust="spacingAndGlyphs">50</text>
<line x1="402.7" y1="483.5" x2="410" y2="483.5" stroke="#000" stroke-width="1.5"/>
<text x="400.3" y="488.5" font-size="13.1" font-weight="bold" text-anchor="end" textLength="21.3" lengthAdjust="spacingAndGlyphs">100</text>
<line x1="402.7" y1="448.0" x2="410" y2="448.0" stroke="#000" stroke-width="1.5"/>
<text x="400.3" y="453.0" font-size="13.1" font-weight="bold" text-anchor="end" textLength="21.3" lengthAdjust="spacingAndGlyphs">150</text>
<line x1="402.7" y1="412.5" x2="410" y2="412.5" stroke="#000" stroke-width="1.5"/>
<text x="400.3" y="417.5" font-size="13.1" font-weight="bold" text-anchor="end" textLength="21.3" lengthAdjust="spacingAndGlyphs">200</text>
<line x1="402.7" y1="377.0" x2="410" y2="377.0" stroke="#000" stroke-width="1.5"/>
<text x="400.3" y="382.0" font-size="13.1" font-weight="bold" text-anchor="end" textLength="21.3" lengthAdjust="spacingAndGlyphs">250</text>
<line x1="410.0" y1="554.5" x2="410.0" y2="561.5" stroke="#000" stroke-width="1.5"/>
<text x="410.0" y="577.3" font-size="13.2" font-weight="bold" text-anchor="middle" textLength="18.6" lengthAdjust="spacingAndGlyphs">0.0</text>
<line x1="498.2" y1="554.5" x2="498.2" y2="561.5" stroke="#000" stroke-width="1.5"/>
<text x="498.2" y="577.3" font-size="13.2" font-weight="bold" text-anchor="middle" textLength="18.6" lengthAdjust="spacingAndGlyphs">0.4</text>
<line x1="586.4" y1="554.5" x2="586.4" y2="561.5" stroke="#000" stroke-width="1.5"/>
<text x="586.4" y="577.3" font-size="13.2" font-weight="bold" text-anchor="middle" textLength="18.6" lengthAdjust="spacingAndGlyphs">0.8</text>
<line x1="674.6" y1="554.5" x2="674.6" y2="561.5" stroke="#000" stroke-width="1.5"/>
<text x="674.6" y="577.3" font-size="13.2" font-weight="bold" text-anchor="middle" textLength="18.6" lengthAdjust="spacingAndGlyphs">1.2</text>
<text transform="translate(370.7,466.2) rotate(-90)" font-size="13.9" text-anchor="middle" textLength="82.5" lengthAdjust="spacingAndGlyphs">interaction [s]</text>
<path d="M403,554.5 H410" stroke="#000" stroke-width="1.5"/>
<text x="541.6" y="353.9" font-size="14" font-weight="bold" text-anchor="middle" textLength="53.8" lengthAdjust="spacingAndGlyphs">tgDISC1</text>
<text x="542.6" y="593.0" font-size="13.8" font-weight="bold" text-anchor="middle" textLength="121.8" lengthAdjust="spacingAndGlyphs">blood-level [ng/ml]</text>
<line x1="432" y1="506.6" x2="675" y2="518.3" stroke="#c63be6" stroke-width="1.05"/>
<line x1="432" y1="510.1" x2="675" y2="524.4" stroke="#5a55fb" stroke-width="1.2"/>
<polygon points="428.10,490.70 430.05,487.60 433.95,487.60 435.90,490.70 433.95,493.80 430.05,493.80" fill="#e9a6f5" stroke="#c63ee6" stroke-width="1.5"/>
<circle cx="432" cy="490.7" r="1.3" fill="#c63ee6"/>
<polygon points="428.10,499.20 430.05,496.10 433.95,496.10 435.90,499.20 433.95,502.30 430.05,502.30" fill="#e9a6f5" stroke="#c63ee6" stroke-width="1.5"/>
<circle cx="432" cy="499.2" r="1.3" fill="#c63ee6"/>
<polygon points="450.10,532.50 452.05,529.40 455.95,529.40 457.90,532.50 455.95,535.60 452.05,535.60" fill="#e9a6f5" stroke="#c63ee6" stroke-width="1.5"/>
<circle cx="454" cy="532.5" r="1.3" fill="#c63ee6"/>
<polygon points="472.30,510.10 474.25,507.00 478.15,507.00 480.10,510.10 478.15,513.20 474.25,513.20" fill="#e9a6f5" stroke="#c63ee6" stroke-width="1.5"/>
<circle cx="476.2" cy="510.1" r="1.3" fill="#c63ee6"/>
<polygon points="494.20,513.50 496.15,510.40 500.05,510.40 502.00,513.50 500.05,516.60 496.15,516.60" fill="#e9a6f5" stroke="#c63ee6" stroke-width="1.5"/>
<circle cx="498.1" cy="513.5" r="1.3" fill="#c63ee6"/>
<polygon points="516.50,503.30 518.45,500.20 522.35,500.20 524.30,503.30 522.35,506.40 518.45,506.40" fill="#e9a6f5" stroke="#c63ee6" stroke-width="1.5"/>
<circle cx="520.4" cy="503.3" r="1.3" fill="#c63ee6"/>
<polygon points="516.50,522.80 518.45,519.70 522.35,519.70 524.30,522.80 522.35,525.90 518.45,525.90" fill="#e9a6f5" stroke="#c63ee6" stroke-width="1.5"/>
<circle cx="520.4" cy="522.8" r="1.3" fill="#c63ee6"/>
<polygon points="538.40,480.90 540.35,477.80 544.25,477.80 546.20,480.90 544.25,484.00 540.35,484.00" fill="#e9a6f5" stroke="#c63ee6" stroke-width="1.5"/>
<circle cx="542.3" cy="480.9" r="1.3" fill="#c63ee6"/>
<polygon points="538.40,507.20 540.35,504.10 544.25,504.10 546.20,507.20 544.25,510.30 540.35,510.30" fill="#e9a6f5" stroke="#c63ee6" stroke-width="1.5"/>
<circle cx="542.3" cy="507.2" r="1.3" fill="#c63ee6"/>
<polygon points="538.40,519.60 540.35,516.50 544.25,516.50 546.20,519.60 544.25,522.70 540.35,522.70" fill="#e9a6f5" stroke="#c63ee6" stroke-width="1.5"/>
<circle cx="542.3" cy="519.6" r="1.3" fill="#c63ee6"/>
<polygon points="560.80,509.70 562.75,506.60 566.65,506.60 568.60,509.70 566.65,512.80 562.75,512.80" fill="#e9a6f5" stroke="#c63ee6" stroke-width="1.5"/>
<circle cx="564.7" cy="509.7" r="1.3" fill="#c63ee6"/>
<polygon points="583.00,494.50 584.95,491.40 588.85,491.40 590.80,494.50 588.85,497.60 584.95,497.60" fill="#e9a6f5" stroke="#c63ee6" stroke-width="1.5"/>
<circle cx="586.9" cy="494.5" r="1.3" fill="#c63ee6"/>
<polygon points="583.00,497.00 584.95,493.90 588.85,493.90 590.80,497.00 588.85,500.10 584.95,500.10" fill="#e9a6f5" stroke="#c63ee6" stroke-width="1.5"/>
<circle cx="586.9" cy="497" r="1.3" fill="#c63ee6"/>
<polygon points="671.10,534.80 673.05,531.70 676.95,531.70 678.90,534.80 676.95,537.90 673.05,537.90" fill="#e9a6f5" stroke="#c63ee6" stroke-width="1.5"/>
<circle cx="675" cy="534.8" r="1.3" fill="#c63ee6"/>
<polygon points="538.40,540.80 540.35,537.70 544.25,537.70 546.20,540.80 544.25,543.90 540.35,543.90" fill="#e9a6f5" stroke="#c63ee6" stroke-width="1.5"/>
<circle cx="542.3" cy="540.8" r="1.3" fill="#c63ee6"/>
<circle cx="432" cy="494.8" r="2.65" fill="none" stroke="#1a12f5" stroke-width="2.0"/>
<circle cx="432" cy="529.9" r="2.65" fill="none" stroke="#1a12f5" stroke-width="2.0"/>
<circle cx="454" cy="507.2" r="2.65" fill="none" stroke="#1a12f5" stroke-width="2.0"/>
<circle cx="476.2" cy="512.3" r="2.65" fill="none" stroke="#1a12f5" stroke-width="2.0"/>
<circle cx="476.2" cy="516" r="2.65" fill="none" stroke="#1a12f5" stroke-width="2.0"/>
<circle cx="498.1" cy="498" r="2.65" fill="none" stroke="#1a12f5" stroke-width="2.0"/>
<circle cx="520.4" cy="493.4" r="2.65" fill="none" stroke="#1a12f5" stroke-width="2.0"/>
<circle cx="520.4" cy="510.1" r="2.65" fill="none" stroke="#1a12f5" stroke-width="2.0"/>
<circle cx="542.3" cy="503.3" r="2.65" fill="none" stroke="#1a12f5" stroke-width="2.0"/>
<circle cx="542.3" cy="527.7" r="2.65" fill="none" stroke="#1a12f5" stroke-width="2.0"/>
<circle cx="542.3" cy="529.9" r="2.65" fill="none" stroke="#1a12f5" stroke-width="2.0"/>
<circle cx="542.3" cy="540.8" r="2.65" fill="none" stroke="#1a12f5" stroke-width="2.0"/>
<circle cx="564.7" cy="525.8" r="2.65" fill="none" stroke="#1a12f5" stroke-width="2.0"/>
<circle cx="586.9" cy="517.4" r="2.65" fill="none" stroke="#1a12f5" stroke-width="2.0"/>
<circle cx="586.9" cy="522.6" r="2.65" fill="none" stroke="#1a12f5" stroke-width="2.0"/>
<circle cx="675" cy="515.6" r="2.65" fill="none" stroke="#1a12f5" stroke-width="2.0"/>
</svg>
</body></html>
